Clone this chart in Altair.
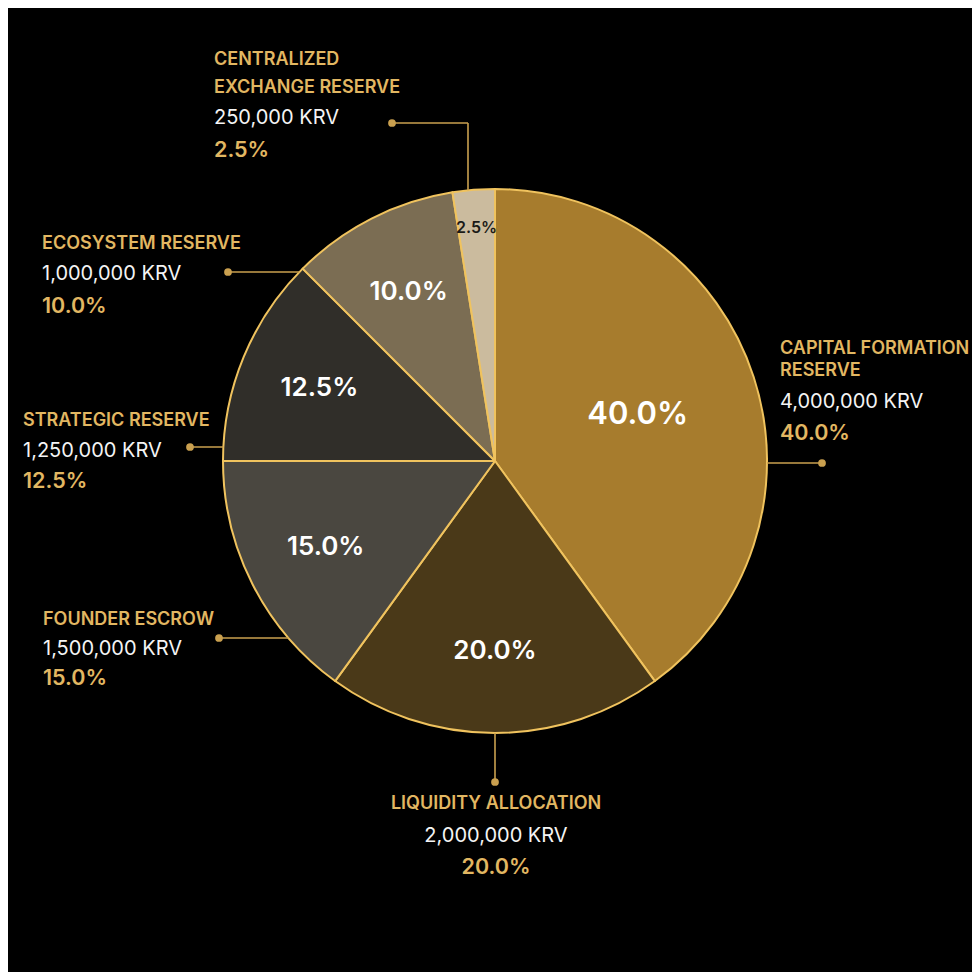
import math
import altair as alt
import pandas as pd

# ---------------- data ----------------
categories = [
    "Capital Formation Reserve",
    "Liquidity Allocation",
    "Founder Escrow",
    "Strategic Reserve",
    "Ecosystem Reserve",
    "Centralized Exchange Reserve",
]
amounts = [4000000, 2000000, 1500000, 1250000, 1000000, 250000]
shares = [40.0, 20.0, 15.0, 12.5, 10.0, 2.5]
title_lines = [
    ["CAPITAL FORMATION", "RESERVE"],
    ["LIQUIDITY ALLOCATION"],
    ["FOUNDER ESCROW"],
    ["STRATEGIC RESERVE"],
    ["ECOSYSTEM RESERVE"],
    ["CENTRALIZED", "EXCHANGE RESERVE"],
]
unit = "KRV"

# ---------------- style / layout ----------------
slice_colors = ["#a77c2d", "#4a3918", "#4a4740", "#302e29", "#7b6d53", "#cbbb9e"]
GOLD = "#e2b762"
LINE_GOLD = "#caa04f"
EDGE_GOLD = "#f0c35e"
FONT = "Inter"
OFF = 8  # page margin
CX, CY, R = 495 - OFF, 461 - OFF, 272
W = H = 964

# label anchors in page coordinates: x, centre-y of each text line, alignment, leader polyline
layout = {
    "Capital Formation Reserve": dict(x=780, ys=[348, 370, 401, 432], align="left",
                                      leader=[(822, 463), ("edgeR", 463)]),
    "Liquidity Allocation": dict(x=496, ys=[803, 835, 866], align="center",
                                 leader=[(495, 782), (495, "edgeB")]),
    "Founder Escrow": dict(x=43, ys=[619, 648, 677], align="left",
                           leader=[(219, 638), ("edgeL", 638)]),
    "Strategic Reserve": dict(x=23, ys=[420, 450, 480], align="left",
                              leader=[(190, 447), ("edgeL", 447)]),
    "Ecosystem Reserve": dict(x=42, ys=[243, 273, 305], align="left",
                              leader=[(228, 272), ("edgeL", 272)]),
    "Centralized Exchange Reserve": dict(x=214, ys=[59, 87, 117, 149], align="left",
                                         leader=[(392, 123), (468, 123), (468, "edgeT")]),
}

def resolve(pt):
    x, y = pt
    if isinstance(x, (int, float)):
        x = x - OFF
    if isinstance(y, (int, float)):
        y = y - OFF
    if x == "edgeR":
        x = CX + math.sqrt(R ** 2 - (y - CY) ** 2)
    if x == "edgeL":
        x = CX - math.sqrt(R ** 2 - (y - CY) ** 2)
    if y == "edgeB":
        y = CY + math.sqrt(R ** 2 - (x - CX) ** 2)
    if y == "edgeT":
        y = CY - math.sqrt(R ** 2 - (x - CX) ** 2)
    return x, y

SIZES = {"title": 18, "value": 20, "pct": 21.5}

text_rows, seg_rows, dot_rows = [], [], []
for cat, amt, sh, tl in zip(categories, amounts, shares, title_lines):
    L = layout[cat]
    lines = [(t, "title") for t in tl] + [(f"{amt:,} {unit}", "value"), (f"{sh:.1f}%", "pct")]
    for (txt, role), yc in zip(lines, L["ys"]):
        text_rows.append(dict(x=L["x"] - OFF, y=yc - OFF + 0.36 * SIZES[role],
                              text=txt, role=role, align=L["align"]))
    pts = [resolve(p) for p in L["leader"]]
    dot_rows.append(dict(x=pts[0][0], y=pts[0][1]))
    for a, b in zip(pts[:-1], pts[1:]):
        seg_rows.append(dict(x=a[0], y=a[1], x2=b[0], y2=b[1]))

pie_df = pd.DataFrame({
    "category": categories,
    "amount": amounts,
    "share": shares,
    "idx": list(range(len(categories))),
    "label": [f"{s:.1f}%" for s in shares],
})
text_df = pd.DataFrame(text_rows)
seg_df = pd.DataFrame(seg_rows)
dot_df = pd.DataFrame(dot_rows)

# ---------------- chart ----------------
arcs = alt.Chart(pie_df).mark_arc(
    outerRadius=R, stroke=EDGE_GOLD, strokeWidth=2, strokeJoin="round"
).encode(
    theta=alt.Theta("amount:Q", stack=True),
    order=alt.Order("idx:Q"),
    x=alt.value(CX),
    y=alt.value(CY),
    color=alt.Color("category:N", scale=alt.Scale(domain=categories, range=slice_colors), legend=None),
)

# slice labels at each slice's mid-angle (cumulative share computed by Vega transforms)
slice_labels = alt.Chart(pie_df).transform_joinaggregate(
    total="sum(amount)"
).transform_window(
    cum="sum(amount)", sort=[alt.SortField("idx", order="ascending")], frame=[None, 0]
).transform_calculate(
    ang="2 * PI * (datum.cum - datum.amount / 2) / datum.total",
    lr="datum.share >= 40 ? 150 : (datum.share >= 5 ? 190 : 234)",
    fs="datum.share >= 40 ? 31 : (datum.share >= 5 ? 26 : 16)",
    fc="datum.share >= 5 ? '#ffffff' : '#1b1a17'",
).mark_text(font=FONT, fontWeight=600, align="center", baseline="middle").encode(
    theta=alt.Theta("ang:Q", scale=None, stack=None),
    radius=alt.Radius("lr:Q", scale=None),
    x=alt.value(CX),
    y=alt.value(CY),
    text="label:N",
    size=alt.Size("fs:Q", scale=None, legend=None),
    color=alt.Color("fc:N", scale=None, legend=None),
)

segs = alt.Chart(seg_df).mark_rule(color=LINE_GOLD, strokeWidth=1.6).encode(
    x=alt.X("x:Q", scale=None), y=alt.Y("y:Q", scale=None),
    x2="x2:Q", y2="y2:Q",
)
dots = alt.Chart(dot_df).mark_circle(color=LINE_GOLD, size=60, opacity=1).encode(
    x=alt.X("x:Q", scale=None), y=alt.Y("y:Q", scale=None),
)

def text_layer(role, align, color, weight):
    return alt.Chart(text_df).mark_text(
        font=FONT, fontSize=SIZES[role], fontWeight=weight, color=color,
        align=align, baseline="alphabetic",
    ).encode(
        x=alt.X("x:Q", scale=None), y=alt.Y("y:Q", scale=None), text="text:N",
    ).transform_filter(f"datum.role == '{role}' && datum.align == '{align}'")

texts = []
for align in ["left", "center"]:
    texts.append(text_layer("title", align, GOLD, 600))
    texts.append(text_layer("value", align, "#f4f4f4", 400))
    texts.append(text_layer("pct", align, GOLD, 600))

chart = alt.layer(arcs, slice_labels, segs, dots, *texts).properties(
    width=W, height=H, background="#000000", padding=0,
    autosize=alt.AutoSizeParams(type="none"),
).configure_view(stroke=None)

chart.save("out.html", embed_options={"renderer": "svg", "actions": False})
